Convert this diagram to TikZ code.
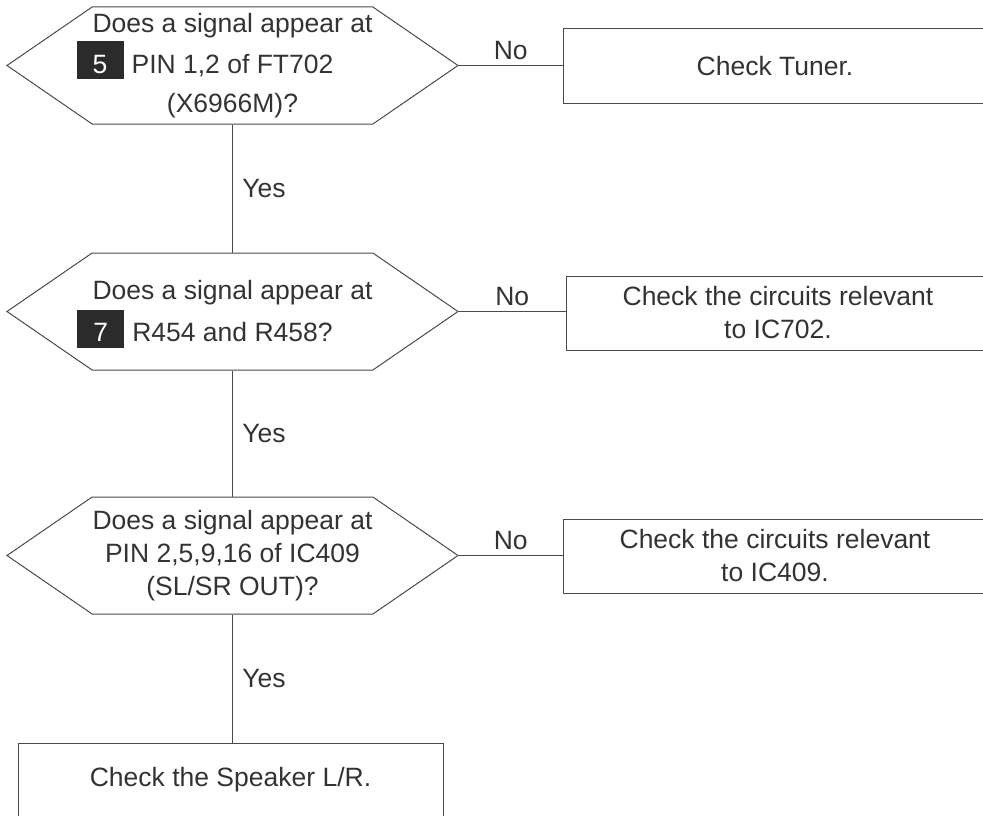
\documentclass[tikz,border=0pt]{standalone}
\usepackage{fontspec}
\setmainfont{Liberation Sans}
\usetikzlibrary{shapes.symbols, positioning}
\definecolor{inkgray}{HTML}{333333}
\definecolor{linegray}{HTML}{4A4A4A}
\definecolor{tagblack}{HTML}{2B2B2B}
\newcommand{\tagnum}[1]{\smash{\llap{\setlength{\fboxsep}{0pt}\colorbox{tagblack}{\makebox[47pt]{\rule[-6pt]{0pt}{38pt}\textcolor{white}{#1}}}\hspace{8pt}}}}

\begin{document}
\begin{tikzpicture}[x=1pt, y=-1pt, font=\fontsize{26.5}{33}\selectfont, text=inkgray,
    decision/.style={signal, signal to=west and east, signal pointer angle=69, draw=linegray, line width=1pt, minimum width=451pt, minimum height=117pt, align=center, inner sep=0pt},
    checkbox/.style={rectangle, draw=linegray, line width=1pt, minimum width=424pt, minimum height=74pt, align=center},
    link/.style={draw=linegray, line width=1pt}]
  \useasboundingbox (0,0) rectangle (983,816);
  \clip (0,0) rectangle (983,816);

  \node[decision] (sig5) at (232.5,65.5) {Does a signal appear at\\[8pt]\tagnum{5}PIN 1,2 of FT702\\[6pt](X6966M)?};
  \node[decision] (sig7) at (232.5,311.5) {Does a signal appear at\\[9pt]\tagnum{7}R454 and R458?};
  \node[decision] (sigout) at (232.5,555.5) {Does a signal appear at\\PIN 2,5,9,16 of IC409\\(SL/SR OUT)?};

  \node[checkbox] (tuner) at (775,66) {Check Tuner.};
  \node[checkbox] (ic702) at (778,313) {Check the circuits relevant\\to IC702.};
  \node[checkbox] (ic409) at (775,556) {Check the circuits relevant\\to IC409.};
  \node[checkbox, minimum width=425pt] (speaker) at (230.5,780) {Check the Speaker L/R.};

  \draw[link] (sig5.east) -- node[above=2pt] {No} (sig5.east -| tuner.west);
  \draw[link] (sig7.east) -- node[above=2pt] {No} (sig7.east -| ic702.west);
  \draw[link] (sigout.east) -- node[above=2pt] {No} (sigout.east -| ic409.west);

  \draw[link] (sig5.south) -- node[right=6pt] {Yes} (sig7.north);
  \draw[link] (sig7.south) -- node[right=6pt] {Yes} (sigout.north);
  \draw[link] (sigout.south) -- node[right=6pt] {Yes} (sigout.south |- speaker.north);
\end{tikzpicture}
\end{document}
